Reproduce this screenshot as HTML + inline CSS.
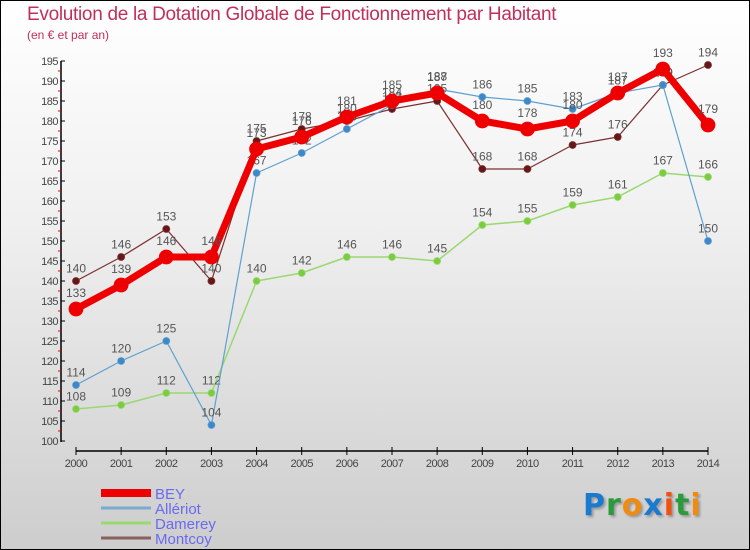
<!DOCTYPE html>
<html><head><meta charset="utf-8"><style>
html,body{margin:0;padding:0}
body{width:750px;height:550px;overflow:hidden;font-family:"Liberation Sans",sans-serif}
#wrap{position:relative;width:748px;height:548px;border:1px solid #000;background:linear-gradient(#fff 0%,#f0f0f0 40%,#cdcdcd 100%)}
.t{position:absolute;color:#c0305a;white-space:nowrap}
</style></head><body>
<div id="wrap">
<div class="t" style="left:26px;top:3px;font-size:19px;letter-spacing:-0.3px">Evolution de la Dotation Globale de Fonctionnement par Habitant</div>
<div class="t" style="left:26px;top:27px;font-size:12px">(en € et par an)</div>
<svg id="c" width="748" height="548" style="position:absolute;left:0;top:0"></svg>
<div style="position:absolute;left:582px;top:487px;font-size:30px;font-weight:bold;font-family:'DejaVu Sans',sans-serif;letter-spacing:1px;text-shadow:2px 2px 2px #999"><span style="color:#1a7ad0">P</span><span style="color:#2a9a3a">r</span><span style="color:#f08a10">o</span><span style="color:#1a7ad0">x</span><span style="color:#f05010">i</span><span style="color:#2a9a3a">t</span><span style="color:#f08a10">i</span></div>
</div>
<script>
const years=[2000,2001,2002,2003,2004,2005,2006,2007,2008,2009,2010,2011,2012,2013,2014];
const bey=[133,139,146,146,173,176,181,185,187,180,178,180,187,193,179];
const alleriot=[114,120,125,104,167,172,178,184,188,186,185,183,187,189,150];
const damerey=[108,109,112,112,140,142,146,146,145,154,155,159,161,167,166];
const montcoy=[140,146,153,140,175,178,180,183,185,168,168,174,176,189,194];
const yTicks=[100,105,110,115,120,125,130,135,140,145,150,155,160,165,170,175,180,185,190,195];
const names=["BEY","Allériot","Damerey","Montcoy"];
const svg=document.getElementById('c');const NS='http://www.w3.org/2000/svg';
function X(i){return 75+i*(707-75)/(years.length-1);}
function Y(v){return 440-(v-100)*4;}
function mk(tag,attrs,parent){const e=document.createElementNS(NS,tag);for(const k in attrs)e.setAttribute(k,attrs[k]);(parent||svg).appendChild(e);return e;}
let e;
e=mk('line',{x1:60,y1:60,x2:60,y2:441,stroke:'#000','stroke-width':1.5});


e=mk('line',{x1:75,y1:450,x2:707,y2:450,stroke:'#000','stroke-width':1.5});


yTicks.forEach(v=>{
 mk('line',{x1:60,y1:Y(v),x2:64,y2:Y(v),stroke:'#000'});
 if(v<195)mk('line',{x1:57,y1:Y(v+2.5),x2:60,y2:Y(v+2.5),stroke:'#e00'});
 e=mk('text',{x:57,y:Y(v)+4,'text-anchor':'end','font-size':11,fill:'#444','letter-spacing':'-0.5'});
 e.textContent=v;
 
 
});
years.forEach((y,i)=>{
 mk('line',{x1:X(i),y1:446,x2:X(i),y2:454,stroke:'#000'});
 e=mk('text',{x:X(i),y:466,'text-anchor':'middle','font-size':11,fill:'#444','letter-spacing':'-0.5'});
 e.textContent=y;
 
 
});
function series(data,color,lw,r,dot,nm){
 const g=mk('g',{});
 
 
 mk('polyline',{points:data.map((v,i)=>X(i)+','+Y(v)).join(' '),fill:'none',stroke:color,'stroke-width':lw,'stroke-linejoin':'round'},g);
 data.forEach((v,i)=>{
  const c=mk('circle',{cx:X(i),cy:Y(v),r:r,fill:dot,stroke:color,'stroke-width':0.8},g);
  
  
  const t=mk('text',{x:X(i),y:Y(v)-r-5,'text-anchor':'middle','font-size':12,fill:'#555'},g);
  t.textContent=v;
 });
}
series(damerey,'#9ad870',1.5,3.5,'#7ccc40','damerey');
series(montcoy,'#7a3030',1.2,3.5,'#661818','montcoy');
series(alleriot,'#5fa0d0',1.2,3.5,'#3d88c8','alleriot');
series(bey,'#ee0000',7,7,'#ee0000','bey');
const lg=[['#ee0000',8],['#7aaad0',3],['#9ad870',3],['#8a6060',3]];
names.forEach((n,i)=>{
 const y=492+i*15;
 mk('line',{x1:100,y1:y,x2:150,y2:y,stroke:lg[i][0],'stroke-width':lg[i][1]});
 e=mk('text',{x:154,y:y+6,'font-size':15,fill:'#6a6af0'});
 e.textContent=n;
 
 
});
</script>
</body></html>
